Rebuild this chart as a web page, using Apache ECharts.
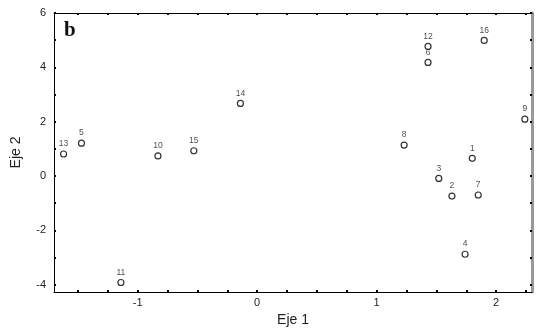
<!DOCTYPE html>
<html>
<head>
<meta charset="utf-8">
<script src="https://cdn.jsdelivr.net/npm/echarts@6/dist/echarts.min.js"></script>
<style>
  html, body { margin: 0; padding: 0; background: #fff; }
  #chart { width: 536px; height: 335px; }
</style>
</head>
<body>
<div id="chart"></div>
<script>
// etiquetas de los puntos
var names = ['1', '2', '3', '4', '5', '6', '7', '8', '9', '10', '11', '12', '13', '14', '15', '16'];
// coordenadas Eje 1
var eje1 = [1.80, 1.63, 1.52, 1.74, -1.47, 1.43, 1.85, 1.23, 2.24, -0.83, -1.14, 1.43, -1.62, -0.14, -0.53, 1.90];
// coordenadas Eje 2
var eje2 = [0.65, -0.74, -0.09, -2.88, 1.21, 4.18, -0.70, 1.14, 2.09, 0.74, -3.92, 4.77, 0.81, 2.67, 0.93, 4.99];

var xLabels = [-1, 0, 1, 2];
var xTicks = [-1.5, -1.25, -1, -0.75, -0.5, -0.25, 0, 0.25, 0.5, 0.75, 1, 1.25, 1.5, 1.75, 2, 2.25];
var yLabels = [-4, -2, 0, 2, 4, 6];
var yTicks = [-4, -3, -2, -1, 0, 1, 2, 3, 4, 5, 6];

var points = names.map(function (n, i) { return [eje1[i], eje2[i], n]; });

var tickStyle = {
    show: true,
    inside: true,
    length: 2,
    lineStyle: { color: '#000', width: 2 }
};

var option = {
    animation: false,
    grid: {
        left: 54,
        right: 4,
        top: 13,
        bottom: 43
    },
    graphic: [{
        type: 'text',
        left: 64,
        top: 20,
        style: {
            text: 'b',
            font: 'bold 21px "Liberation Serif", serif',
            fill: '#111'
        }
    }],
    xAxis: [{
        type: 'value',
        min: -1.7,
        max: 2.3,
        name: 'Eje 1',
        nameLocation: 'middle',
        nameGap: 16,
        nameTextStyle: { fontFamily: 'Liberation Sans', fontSize: 14, color: '#222' },
        splitLine: { show: false },
        axisLine: { show: true, onZero: false, lineStyle: { color: '#000', width: 1 } },
        axisTick: Object.assign({ customValues: xTicks }, tickStyle),
        axisLabel: {
            customValues: xLabels,
            margin: 5,
            fontFamily: 'Liberation Sans',
            fontSize: 11,
            color: '#222'
        }
    }, {
        type: 'value',
        position: 'top',
        min: -1.7,
        max: 2.3,
        splitLine: { show: false },
        axisLine: { show: true, onZero: false, lineStyle: { color: '#000', width: 1 } },
        axisTick: Object.assign({ customValues: xTicks }, tickStyle),
        axisLabel: { show: false }
    }],
    yAxis: [{
        type: 'value',
        min: -4.27,
        max: 6,
        name: 'Eje 2',
        nameLocation: 'middle',
        nameGap: 31,
        nameTextStyle: { fontFamily: 'Liberation Sans', fontSize: 14, color: '#222' },
        splitLine: { show: false },
        axisLine: { show: true, onZero: false, lineStyle: { color: '#000', width: 1 } },
        axisTick: Object.assign({ customValues: yTicks }, tickStyle),
        axisLabel: {
            customValues: yLabels,
            margin: 8,
            fontFamily: 'Liberation Sans',
            fontSize: 11,
            color: '#222'
        }
    }, {
        type: 'value',
        position: 'right',
        min: -4.27,
        max: 6,
        splitLine: { show: false },
        axisLine: { show: true, onZero: false, lineStyle: { color: '#999', width: 3 } },
        axisTick: Object.assign({ customValues: yTicks }, tickStyle),
        axisLabel: { show: false }
    }],
    series: [{
        type: 'scatter',
        data: points,
        symbol: 'circle',
        symbolSize: 6,
        itemStyle: {
            color: '#fff',
            borderColor: '#000',
            borderWidth: 1.2
        },
        label: {
            show: true,
            position: 'top',
            distance: 2,
            formatter: function (p) { return p.data[2]; },
            fontFamily: 'Liberation Sans',
            fontSize: 8.5,
            color: '#222'
        }
    }]
};

var chart = echarts.init(document.getElementById('chart'));
chart.setOption(option);
</script>
</body>
</html>
